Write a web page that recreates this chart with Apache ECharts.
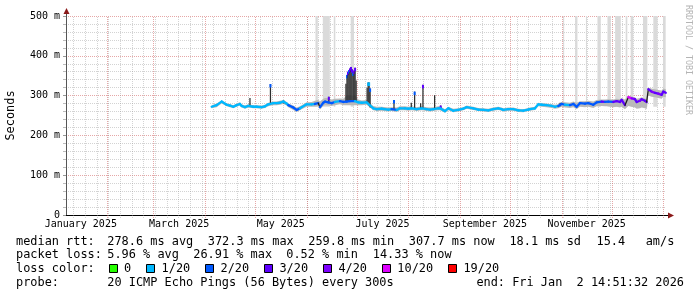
<!DOCTYPE html>
<html><head><meta charset="utf-8">
<script src="https://cdn.jsdelivr.net/npm/echarts@6/dist/echarts.min.js"></script>
<style>html,body{margin:0;padding:0;background:#fff}#c{width:697px;height:297px}</style>
</head><body><div id="c"></div>
<script>
// ---------- axis / time range ----------
const rangeStart = '2025-01-07T14:51:32';
const rangeEnd = '2026-01-02T14:51:32';
const monthStarts = ['2025-01-01','2025-02-01','2025-03-01','2025-04-01','2025-05-01','2025-06-01','2025-07-01',
  '2025-08-01','2025-09-01','2025-10-01','2025-11-01','2025-12-01','2026-01-01','2026-02-01'];
const monthLabels = ['January 2025','March 2025','May 2025','July 2025','September 2025','November 2025'];
const firstSunday = '2025-01-12';
const yMin = 0, yMax = 500, yStep = 100;

// ---------- median rtt (ms), loss class, smoke range ----------
const dates = ['2025-04-05','2025-04-08','2025-04-11','2025-04-14','2025-04-16','2025-04-18','2025-04-20','2025-04-22','2025-04-23','2025-04-25',
'2025-04-27','2025-04-30','2025-05-02','2025-05-05','2025-05-07','2025-05-09','2025-05-12','2025-05-14','2025-05-16','2025-05-18',
'2025-05-20','2025-05-21','2025-05-24','2025-05-26','2025-05-28','2025-05-29','2025-06-01','2025-06-04','2025-06-06','2025-06-08',
'2025-06-09','2025-06-11','2025-06-12','2025-06-14','2025-06-16','2025-06-18','2025-06-21','2025-06-23','2025-06-25','2025-06-27',
'2025-06-30','2025-07-02','2025-07-04','2025-07-07','2025-07-11','2025-07-13','2025-07-16','2025-07-20','2025-07-22','2025-07-25',
'2025-07-27','2025-07-30','2025-08-01','2025-08-03','2025-08-06','2025-08-09','2025-08-12','2025-08-14','2025-08-16','2025-08-19',
'2025-08-20','2025-08-23','2025-08-25','2025-08-28','2025-08-31','2025-09-03','2025-09-05','2025-09-09','2025-09-12','2025-09-15',
'2025-09-18','2025-09-21','2025-09-24','2025-09-26','2025-09-27','2025-09-30','2025-10-03','2025-10-06','2025-10-09','2025-10-12',
'2025-10-13','2025-10-16','2025-10-18','2025-10-20','2025-10-23','2025-10-26','2025-10-28','2025-10-30','2025-11-01','2025-11-03',
'2025-11-06','2025-11-08','2025-11-10','2025-11-12','2025-11-15','2025-11-17','2025-11-20','2025-11-22','2025-11-25','2025-11-27',
'2025-11-29','2025-12-02','2025-12-04','2025-12-06','2025-12-07','2025-12-09','2025-12-11','2025-12-13','2025-12-15','2025-12-16',
'2025-12-18','2025-12-19','2025-12-21','2025-12-22','2025-12-23','2025-12-25','2025-12-27','2025-12-29','2025-12-31','2026-01-01',
'2026-01-02T12:00'];
const median = [272,276,285,277,275,272,276,279,274,271,
274,272,272,271,273,278,281,281,282,285,
280,276,270,264,268,271,278,278,279,281,
271,282,285,283,281,284,286,284,285,286,
286,283,282,283,268,266,267,265,266,264,
268,268,267,268,266,268,266,265,266,268,
268,261,268,262,264,267,271,268,265,264,
263,266,268,266,264,266,266,263,262,265,
266,268,278,277,276,274,272,274,279,277,
276,279,272,281,280,281,277,283,285,284,
285,284,286,284,289,276,296,293,291,284,
287,291,287,284,316,310,307,305,302,310,
307];
const loss = [1,1,1,1,1,1,1,1,1,1,
1,1,1,1,1,1,1,1,1,1,
1,1,2,2,2,1,1,1,1,2,
3,2,2,2,2,2,1,2,2,2,
2,1,1,1,1,1,1,1,1,2,
1,1,1,1,1,1,1,1,1,1,
1,1,1,1,1,1,1,1,1,1,
1,1,1,1,1,1,1,1,1,1,
1,1,1,1,1,1,1,1,2,2,
1,2,2,2,2,2,2,2,2,3,
2,2,3,3,3,3,5,5,4,3,
3,4,3,3,3,3,4,3,4,3,
3];
const smokeLo = [268,271,280,273,271,268,272,275,270,267,
270,268,268,267,269,273,276,276,277,279,
275,271,264,259,263,266,272,272,272,273,
265,274,276,275,274,276,278,276,276,276,
276,276,276,277,263,261,262,260,261,259,
263,263,262,263,261,263,261,260,261,263,
263,257,263,258,260,263,267,264,261,260,
259,262,264,262,260,262,262,259,258,261,
262,264,273,272,271,269,267,268,272,270,
269,271,266,272,271,272,269,273,274,273,
273,271,272,270,272,266,274,272,270,267,
268,270,268,266,300,297,296,294,292,297,
296];
const smokeHi = [276,280,288,281,279,276,280,283,278,275,
278,276,276,275,277,282,285,285,287,289,
284,280,275,270,273,276,283,284,287,289,
285,292,294,294,290,292,293,292,300,300,
300,290,288,289,274,272,272,270,271,270,
273,273,272,273,271,273,271,270,271,273,
273,266,272,267,268,271,275,272,269,268,
267,270,272,270,268,270,270,267,266,269,
270,272,282,281,280,278,277,278,284,283,
282,285,282,286,286,287,285,289,290,290,
291,290,292,291,294,290,300,298,296,292,
294,296,293,291,320,318,316,314,313,318,
316];

// ---------- short latency spikes (dark smoke with coloured median tip, -1 = none) ----------
const spikeDates = ['2025-04-28T00:00','2025-05-10T07:00','2025-05-18T07:00','2025-06-14T07:00',
'2025-06-24T14:00','2025-06-25T05:00','2025-06-25T19:00','2025-06-26T10:00','2025-06-27T00:00','2025-06-27T14:00',
'2025-06-28T05:00','2025-06-28T22:00','2025-06-29T12:00','2025-06-30T02:00','2025-06-30T17:00',
'2025-07-07T07:00','2025-07-07T22:00','2025-07-08T12:00','2025-07-09T02:00','2025-07-23T10:00',
'2025-08-02T19:00','2025-08-04T19:00','2025-08-08T10:00','2025-08-09T19:00','2025-08-16T19:00',
'2025-08-20T10:00','2025-10-31T02:00'];
const spikeBase = [272,278,280,283, 285,285,285,285,285,285, 285,285,285,285,285, 283,283,275,270,266, 267,267,267,267,266, 268,273];
const spikeTop  = [294,329,288,297, 330,352,360,364,368,372, 366,358,363,370,338, 320,333,333,318,289, 282,310,281,327,301, 275,282];
const spikeTip  = [-1,2,-1,3, -1,2,3,2,3,3, 3,2,3,3,-1, -1,1,1,2,2, -1,2,-1,3,-1, 3,-1];

// ---------- periods where the slowest pings exceed the graph top ----------
const outlierFrom = ['2025-06-06T07:00','2025-06-10T17:00','2025-06-17T07:00','2025-06-27T10:00','2025-11-01T22:00',
'2025-11-09T02:00','2025-11-15T14:00','2025-11-22T12:00','2025-11-28T12:00','2025-12-03T02:00',
'2025-12-09T10:00','2025-12-12T10:00','2025-12-19T19:00','2025-12-26T00:00','2025-12-31T19:00'];
const outlierTo = ['2025-06-07T17:00','2025-06-14T22:00','2025-06-18T05:00','2025-06-29T10:00','2025-11-02T10:00',
'2025-11-10T12:00','2025-11-16T05:00','2025-11-24T12:00','2025-11-30T12:00','2025-12-06T12:00',
'2025-12-10T10:00','2025-12-14T00:00','2025-12-22T10:00','2025-12-28T14:00','2026-01-02T10:00'];

// ---------- legend ----------
const lossLabels = ['0','1/20','2/20','3/20','4/20','10/20','19/20'];
const lossColors = ['#26ff00','#00b8ff','#0059ff','#5e00ff','#7e00ff','#dd00ff','#ff0000'];
const rttStats = ['278.6 ms avg','372.3 ms max','259.8 ms min','307.7 ms now','18.1 ms sd','15.4','am/s'];
const lossStats = ['5.96 % avg','26.91 % max','0.52 % min','14.33 % now'];
const probeText = '20 ICMP Echo Pings (56 Bytes) every 300s';
const endText = 'end: Fri Jan  2 14:51:32 2026';

// ================= build =================
function ts(s){const m=s.match(/(\d+)-(\d+)-(\d+)(?:T(\d+):(\d+)(?::(\d+))?)?/);
  return Date.UTC(+m[1],m[2]-1,+m[3],+(m[4]||0),+(m[5]||0),+(m[6]||0));}
const T0 = ts(rangeStart), T1 = ts(rangeEnd), DAY = 864e5;
const T = dates.map(ts);
const MONO = '"DejaVu Sans Mono", monospace';
const minorCol = 'rgba(150,150,150,0.42)', majorCol = 'rgba(205,80,80,0.5)';

const gridLines = [];
for (let t = ts(firstSunday); t <= T1; t += 7*DAY) gridLines.push({t, major:false});
monthStarts.map(ts).filter(t => t >= T0 && t <= T1).forEach(t => gridLines.push({t, major:true}));

const labelVals = monthLabels.map((_, k) => (ts(monthStarts[2*k]) + ts(monthStarts[2*k+1])) / 2);
const labelMap = new Map(labelVals.map((v,k)=>[v, monthLabels[k]]));

const chart = echarts.init(document.getElementById('c'), null, {renderer:'canvas'});

const gridSeries = {
  type:'custom', silent:true, clip:false, z:1,
  data: gridLines.map(g => [g.t, 0]),
  renderItem(params, api){
    const g = gridLines[params.dataIndex];
    const top = api.coord([g.t, yMax]), bot = api.coord([g.t, yMin]);
    const x = Math.round(top[0]) + 0.5;
    return {type:'line', shape:{x1:x, y1:bot[1]+3, x2:x, y2:top[1]},
      style:{stroke: g.major ? majorCol : minorCol, lineWidth:1, lineDash:[1,1]}};
  }
};

const outlierSeries = {
  type:'custom', silent:true, z:2,
  data: outlierFrom.map((s,i)=>[ts(s), yMax]),
  renderItem(params, api){
    const i = params.dataIndex;
    const a = api.coord([ts(outlierFrom[i]), yMax]), b = api.coord([ts(outlierTo[i]), 272]);
    return {type:'rect', shape:{x:a[0], y:a[1], width:Math.max(1, b[0]-a[0]), height:b[1]-a[1]},
      style:{fill:'#dadada'}};
  }
};

const smokeSeries = {
  type:'custom', silent:true, z:3,
  data: [[T[0], smokeLo[0]]],
  renderItem(params, api){
    const pts = [];
    for (let i=0;i<T.length;i++) pts.push(api.coord([T[i], smokeLo[i]]));
    for (let i=T.length-1;i>=0;i--) pts.push(api.coord([T[i], smokeHi[i]]));
    return {type:'polygon', shape:{points:pts}, style:{fill:'#b9b9b9'}};
  }
};

const spikeSeries = {
  type:'custom', silent:true, z:4,
  data: spikeDates.map((s,i)=>[ts(s), spikeTop[i]]),
  renderItem(params, api){
    const i = params.dataIndex, t = ts(spikeDates[i]);
    const b = api.coord([t, spikeBase[i]]), p = api.coord([t, spikeTop[i]]);
    const children = [{type:'line', shape:{x1:p[0], y1:b[1], x2:p[0], y2:p[1]},
      style:{stroke:'#2e2e2e', lineWidth:1.25}}];
    if (spikeTip[i] >= 0) children.push({type:'line', shape:{x1:p[0], y1:p[1], x2:p[0], y2:p[1]+3.5},
      style:{stroke:lossColors[spikeTip[i]], lineWidth:2}});
    return {type:'group', children};
  }
};

const medianSeries = {
  type:'custom', silent:true, z:5,
  data: T.map((t,i)=>[t, median[i]]),
  renderItem(params, api){
    const i = params.dataIndex;
    if (i >= T.length-1) return null;
    const p0 = api.coord([T[i], median[i]]), p1 = api.coord([T[i+1], median[i+1]]);
    const steep = Math.abs(median[i+1]-median[i]) > 8 && Math.abs(p1[1]-p0[1]) > 2*Math.abs(p1[0]-p0[0]);
    return {type:'line', shape:{x1:p0[0], y1:p0[1], x2:p1[0], y2:p1[1]},
      style:{stroke: steep ? '#1e1e1e' : lossColors[loss[i+1]], lineWidth: steep ? 1.3 : 2.3, lineCap:'round'}};
  }
};

// ---------- legend / text graphics ----------
const G = [];
const txt = (x, y, text, extra) => G.push({type:'text', silent:true, x, y,
  style:Object.assign({text, font:'11.9px ' + MONO, fill:'#000', verticalAlign:'middle'}, extra||{})});
const rows = [241.5, 255.3, 269.3, 283.3];
txt(16, rows[0], 'median rtt:');
[107.3, 207.8, 308.3, 408.8, 509.4, 596.5, 645.7].forEach((x,k)=>txt(x, rows[0], rttStats[k]));
txt(16, rows[1], 'packet loss:');
[107.3, 193.3, 286.3, 372.8].forEach((x,k)=>txt(x, rows[1], lossStats[k]));
txt(16, rows[2], 'loss color:');
let cur = 108.6;
lossLabels.forEach((lab,k)=>{
  G.push({type:'rect', silent:true, shape:{x:Math.round(cur)+0.5, y:264.5, width:8, height:8},
    style:{fill:lossColors[k], stroke:'#000', lineWidth:1}});
  txt(cur+15.5, rows[2], lab);
  cur = cur + 15.5 + lab.length*7.16 + 14.8;
});
txt(16, rows[3], 'probe:');
txt(107.3, rows[3], probeText);
txt(684, rows[3], endText, {align:'right'});
// y title
G.push({type:'text', silent:true, x:10.5, y:115.5, rotation:Math.PI/2,
  style:{text:'Seconds', font:'11.9px ' + MONO, fill:'#000', align:'center', verticalAlign:'middle'}});
// watermark
G.push({type:'text', silent:true, x:688.5, y:60, rotation:-Math.PI/2,
  style:{text:'RRDTOOL / TOBI OETIKER', font:'8.3px ' + MONO, fill:'#b4b4b4', align:'center', verticalAlign:'middle'}});
// axis extensions + arrows
G.push({type:'line', silent:true, shape:{x1:666, y1:215.5, x2:669, y2:215.5}, style:{stroke:'#000', lineWidth:1}});
G.push({type:'line', silent:true, shape:{x1:66.5, y1:16, x2:66.5, y2:12}, style:{stroke:'#555', lineWidth:1}});
G.push({type:'polygon', silent:true, shape:{points:[[674,215.5],[668,212.5],[668,218.5]]}, style:{fill:'#8b1a1a'}});
G.push({type:'polygon', silent:true, shape:{points:[[66.5,8],[63.5,14],[69.5,14]]}, style:{fill:'#8b1a1a'}});

chart.setOption({
  animation:false,
  backgroundColor:'#fff',
  grid:{left:66, top:16, width:600, height:199, outerBoundsMode:'none', containLabel:false},
  xAxis:{type:'value', min:T0, max:T1,
    axisLine:{show:true, lineStyle:{color:'#000', width:1}},
    axisTick:{show:false}, splitLine:{show:false},
    axisLabel:{customValues:labelVals, formatter:v=>labelMap.get(v)||'', margin:4,
      fontFamily:MONO, fontSize:10, color:'#000', showMinLabel:true, showMaxLabel:true}},
  yAxis:{type:'value', min:yMin, max:yMax, interval:yStep,
    axisLine:{show:true, lineStyle:{color:'#555', width:1}},
    axisTick:{show:true, length:3, lineStyle:{color:'#999'}},
    minorTick:{show:true, splitNumber:5, length:3, lineStyle:{color:'#bbb'}},
    splitLine:{show:true, lineStyle:{color:majorCol, type:[1,1]}},
    minorSplitLine:{show:true, lineStyle:{color:minorCol, type:[1,1]}},
    axisLabel:{formatter:v=> v===0 ? '0' : v+' m', margin:6, fontFamily:MONO, fontSize:10, color:'#000'}},
  series:[gridSeries, outlierSeries, smokeSeries, spikeSeries, medianSeries],
  graphic:G
});
</script></body></html>
